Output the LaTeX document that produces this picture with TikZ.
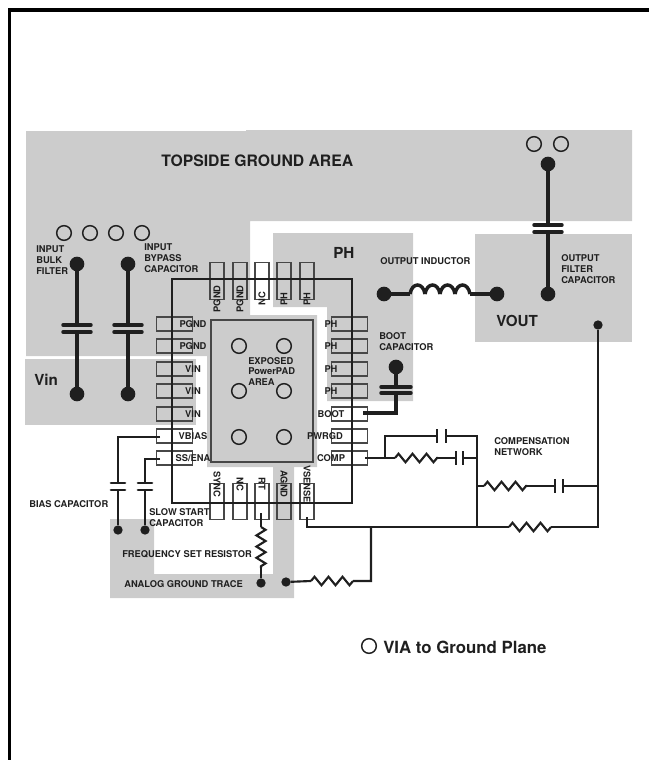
\documentclass[tikz,border=0pt]{standalone}
\usepackage{fontspec}
\setmainfont{TeX Gyre Heros}
\usepackage{xcolor}
\usetikzlibrary{decorations.pathmorphing}
\definecolor{mygray}{gray}{0.80}
\colorlet{myink}{black!88}
\colorlet{mypin}{black!72}
\tikzset{
  frame/.style={line width=2.3pt,black},
  area/.style={fill=mygray,draw=none},
  pad/.style={draw=mypin,line width=1.4pt,fill=none},
  chip/.style={draw=myink,line width=1.6pt,fill=none},
  pin h/.style={draw=mypin,line width=0.9pt,fill=none,minimum width=27.4pt,minimum height=10.5pt,inner sep=0,outer sep=0},
  pin v/.style={draw=mypin,line width=0.9pt,fill=none,minimum width=10.5pt,minimum height=27.4pt,inner sep=0,outer sep=0},
  via/.style={circle,draw=myink,line width=1.1pt,fill=none,minimum size=11pt,inner sep=0,outer sep=0},
  dot big/.style={circle,fill=myink,minimum size=11pt,inner sep=0,outer sep=0},
  dot small/.style={circle,fill=myink,minimum size=7pt,inner sep=0,outer sep=0},
  wire/.style={myink,line width=1.6pt},
  wire mid/.style={myink,line width=2pt},
  wire thick/.style={myink,line width=2.6pt},
  resistor/.style={decoration={zigzag,amplitude=3.2pt,segment length=10.5pt},decorate},
  resistor v/.style={decoration={zigzag,amplitude=3.4pt,segment length=8.4pt},decorate},
  label/.style={font=\fontsize{7}{8.2}\selectfont\bfseries,text=myink,inner sep=0,align=left},
  pin label/.style={label,align=center},
  big label/.style={font=\fontsize{11.4}{13}\selectfont\bfseries,text=myink,inner sep=0}
}
% capacitor plates across a vertical wire, ends are \1a and \1b
\newcommand{\vcap}[6]{
  \coordinate (#1a) at (#2,#3);
  \coordinate (#1b) at (#2,#4);
  \draw[#6,line cap=round] (#2-#5,#3) -- (#2+#5,#3) (#2-#5,#4) -- (#2+#5,#4);
}
% capacitor plates across a horizontal wire
\newcommand{\hcap}[5]{
  \coordinate (#1a) at (#2,#4);
  \coordinate (#1b) at (#3,#4);
  \draw[wire] (#2,#4-#5) -- (#2,#4+#5) (#3,#4-#5) -- (#3,#4+#5);
}
\begin{document}
\begin{tikzpicture}[x=0.75pt,y=-0.75pt]
  \useasboundingbox (0,0) rectangle (649,760);
  % Draw copper areas
  \fill[area] (26,131) -- (246,131) -- (246,130) -- (632,130) -- (632,221) -- (250,221)
     -- (250,315) -- (317,315) -- (317,467) -- (207,467) -- (207,356) -- (26,356) -- cycle;
  \fill[area] (25,359) rectangle (196,425);
  \fill[area] (273,233) -- (413,233) -- (413,401) -- (327,401) -- (327,307) -- (273,307) -- cycle;
  \fill[area] (475,234) rectangle (632,342);
  \fill[area] (273,467) -- (294,467) -- (294,598) -- (110,598) -- (110,519) -- (154,519)
     -- (154,574) -- (273,574) -- cycle;
  % Page frame
  \draw[frame] (9.5,760) -- (9.5,10) -- (649,10);
  % Exposed pad
  \draw[pad] (211,320) rectangle (313,462);
  % Draw top and bottom pins
  \foreach \x/\t [count=\xi] in {217/PGND,240/PGND,262/NC,284/PH,307/PH}{%
    \node[pin v] (top\xi) at (\x,281) {};
    \node[pin label,rotate=90] (top\xi l) at (\x,299) {\t};
  }
  \foreach \x/\t [count=\xi] in {217/SYNC,240/NC,262/RT,284/AGND,307/VSENSE}{%
    \node[pin v] (bot\xi) at (\x,501.5) {};
    \node[pin label,rotate=-90] (bot\xi l) at (\x,484) {\t};
  }
  % Draw left and right pins
  \foreach \y/\t [count=\yi] in {324/PGND,346/PGND,369/VIN,391/VIN,414/VIN,436/VBIAS,458/{SS/ENA}}{%
    \node[pin h] (lft\yi) at (174.5,\y) {};
    \node[pin label] (lft\yi l) at (193,\y) {\t};
  }
  \foreach \y/\t/\lx [count=\yi] in {324/PH/331,346/PH/331,369/PH/331,391/PH/331,414/BOOT/331,436/PWRGD/325,458/COMP/331}{%
    \node[pin h] (rgt\yi) at (349.5,\y) {};
    \node[pin label] (rgt\yi l) at (\lx,\y) {\t};
  }
  % Package outline
  \draw[chip] (172,279) rectangle (352,503);
  % Vias
  \foreach \x/\y [count=\vi] in {64/233,90/233,116/233,142/233,534/144,561/144,239/346,284/346,239/391,284/391,239/437,284/437,369/646}{%
    \node[via] (via\vi) at (\x,\y) {};
  }
  % Input capacitors
  \node[dot big] (bulk top) at (77,264) {};
  \node[dot big] (bulk bot) at (77,394) {};
  \node[dot big] (byp top) at (128,264) {};
  \node[dot big] (byp bot) at (128,394) {};
  \vcap{cin1}{77}{325}{332}{14}{wire thick}
  \vcap{cin2}{128}{325}{332}{14}{wire thick}
  \draw[wire thick] (bulk top) -- (cin1a) (cin1b) -- (bulk bot);
  \draw[wire thick] (byp top) -- (cin2a) (cin2b) -- (byp bot);
  % Output capacitor and inductor
  \node[dot big] (cout top) at (548,164) {};
  \node[dot big] (cout bot) at (548,294) {};
  \vcap{cout}{548}{225}{232}{14}{wire thick}
  \draw[wire thick] (cout top) -- (couta) (coutb) -- (cout bot);
  \node[dot big] (ind l) at (384,294) {};
  \node[dot big] (ind r) at (497,294) {};
  \coordinate (ind a) at (410,294);
  \coordinate (ind b) at (470,294);
  \draw[wire thick] (ind l) -- (ind a) (ind b) -- (ind r);
  \foreach \cx in {410,425,440,455}{%
    \draw[wire thick] (\cx,294) .. controls (\cx+2,282) and (\cx+13,282) .. (\cx+15,294);
  }
  % Boot capacitor
  \node[dot big] (boot top) at (396,367) {};
  \vcap{cboot}{396}{387}{393}{15}{wire thick}
  \coordinate (boot c) at (396,413);
  \coordinate (boot p) at (363,413);
  \draw[wire thick] (boot top) -- (cboota) (cbootb) -- (boot c) -- (boot p);
  % Bias and slow start capacitors
  \node[dot small] (bias d) at (118,530) {};
  \node[dot small] (ss d) at (145,530) {};
  \coordinate (bias p) at (160,437);
  \coordinate (ss p) at (160,459);
  \vcap{cbias}{118}{483}{490}{7}{wire mid}
  \vcap{css}{145}{483}{490}{7}{wire mid}
  \draw[wire mid] (bias p) -| (cbiasa) (cbiasb) -- (bias d);
  \draw[wire mid] (ss p) -| (cssa) (cssb) -- (ss d);
  % Frequency set resistor
  \node[dot small] (rt d) at (261,583) {};
  \node[dot small] (ag d) at (286,582) {};
  \coordinate (rt p) at (261,513);
  \coordinate (rt a) at (261,527);
  \coordinate (rt b) at (261,568);
  \draw[wire] (rt p) -- (rt a) (rt b) -- (rt d);
  \draw[wire,resistor v] (rt a) -- (rt b);
  % Compensation network
  \coordinate (comp p) at (365,458);
  \coordinate (comp j) at (385,458);
  \coordinate (r1a) at (395,458);
  \coordinate (r1b) at (438,458);
  \coordinate (n1) at (477,458);
  \coordinate (n2) at (477,436);
  \coordinate (n3) at (477,486);
  \coordinate (n4) at (477,527);
  \coordinate (top l) at (385,436);
  \hcap{c1}{437}{446}{436}{7}
  \hcap{c2}{456}{463}{458}{7}
  \hcap{c3}{555}{563}{486}{7}
  \coordinate (r2a) at (484,486);
  \coordinate (r2b) at (527,486);
  \coordinate (r3a) at (509,527);
  \coordinate (r3b) at (551,527);
  \coordinate (r4a) at (353,581);
  \coordinate (r4b) at (311,581);
  \coordinate (fb r) at (598,486);
  \coordinate (fb c) at (598,527);
  \coordinate (vs p) at (307,517);
  \coordinate (vs c) at (307,527);
  \coordinate (j1) at (371,527);
  \coordinate (j2) at (371,581);
  \node[dot small] (fb d) at (598,325) {};
  \draw[wire] (comp p) -- (r1a) (r1b) -- (c2a) (c2b) -- (n1);
  \draw[wire] (comp j) -- (top l) -- (c1a) (c1b) -- (n2) -- (n4);
  \draw[wire] (n3) -- (r2a) (r2b) -- (c3a) (c3b) -- (fb r);
  \draw[wire] (vs p) -- (vs c) -- (r3a) (r3b) -- (fb c) -- (fb d);
  \draw[wire] (j1) -- (j2) -- (r4a) (r4b) -- (ag d);
  \foreach \a/\b in {r1a/r1b,r2a/r2b,r3a/r3b,r4a/r4b}{%
    \draw[wire,resistor] (\a) -- (\b);
  }
  % Labels
  \node[big label,anchor=west,font=\fontsize{11.8}{13}\selectfont\bfseries] (topside) at (161,161) {TOPSIDE GROUND AREA};
  \node[big label,anchor=west] (vin) at (34,380) {Vin};
  \node[big label,anchor=west] (ph) at (333,253) {PH};
  \node[big label,anchor=west] (vout) at (496,321) {VOUT};
  \node[label,anchor=west] (l bulk) at (36,260.5) {INPUT\\BULK\\FILTER};
  \node[label,anchor=west] (l bypass) at (144,258.5) {INPUT\\BYPASS\\CAPACITOR};
  \node[label,anchor=west] (l ofc) at (561,269.5) {OUTPUT\\FILTER\\CAPACITOR};
  \node[label,anchor=west] (l boot) at (379,342) {BOOT\\CAPACITOR};
  \node[label,anchor=west] (l ind) at (380,261) {OUTPUT INDUCTOR};
  \node[label,anchor=west] (l comp) at (494,447) {COMPENSATION\\NETWORK};
  \node[label,anchor=west] (l pad) at (248,371.5) {EXPOSED\\PowerPAD\\AREA};
  \node[label,anchor=west] (l bias) at (29,504) {BIAS CAPACITOR};
  \node[label,anchor=west] (l ss) at (149,518) {SLOW START\\CAPACITOR};
  \node[label,anchor=west] (l freq) at (122,554) {FREQUENCY SET RESISTOR};
  \node[label,anchor=west] (l trace) at (124,584) {ANALOG GROUND TRACE};
  \node[big label,anchor=west,font=\fontsize{12.6}{14}\selectfont\bfseries] (l via) at (383,647) {VIA to Ground Plane};
\end{tikzpicture}
\end{document}
